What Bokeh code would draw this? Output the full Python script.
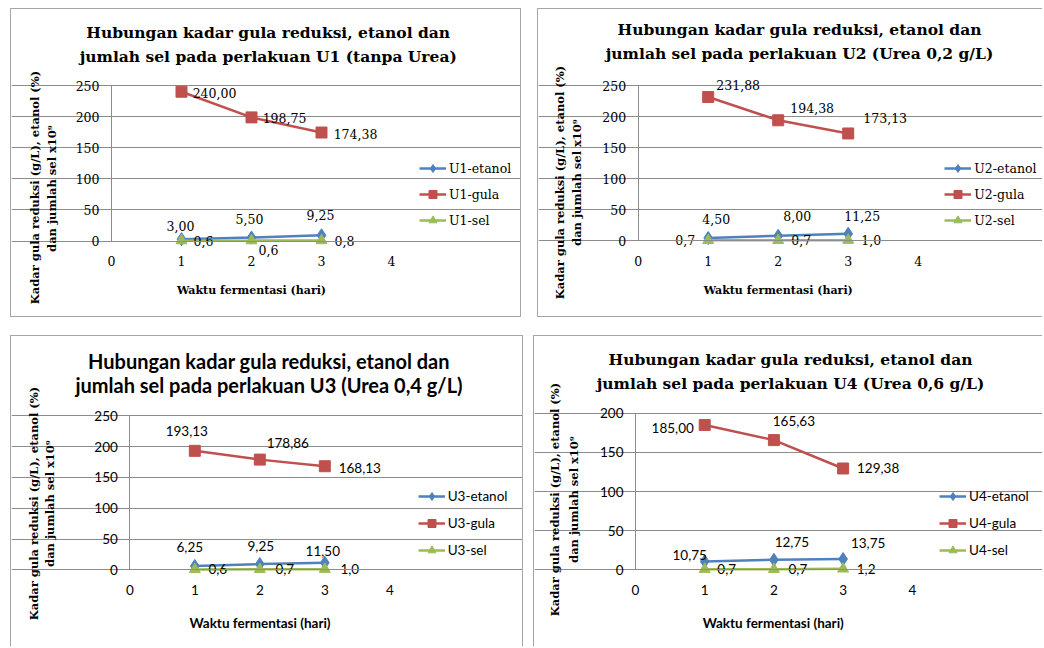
import math
from bokeh.plotting import figure
from bokeh.models import Legend, LegendItem, ColumnDataSource, FixedTicker, Range1d, Label
from bokeh.layouts import column, row
from bokeh.core.properties import value
from bokeh.embed import file_html
from bokeh.resources import INLINE

# ---------------- data ----------------
days = [1, 2, 3]
x_ticks = [0, 1, 2, 3, 4]

u1_etanol = [3.00, 5.50, 9.25]
u1_gula = [240.00, 198.75, 174.38]
u1_sel = [0.6, 0.6, 0.8]

u2_etanol = [4.50, 8.00, 11.25]
u2_gula = [231.88, 194.38, 173.13]
u2_sel = [0.7, 0.7, 1.0]

u3_etanol = [6.25, 9.25, 11.50]
u3_gula = [193.13, 178.86, 168.13]
u3_sel = [0.6, 0.7, 1.0]

u4_etanol = [10.75, 12.75, 13.75]
u4_gula = [185.00, 165.63, 129.38]
u4_sel = [0.7, 0.7, 1.2]

y_ticks_250 = [0, 50, 100, 150, 200, 250]
y_ticks_200 = [0, 50, 100, 150, 200]

titles = [
    ["Hubungan kadar gula reduksi, etanol dan", "jumlah sel pada perlakuan U1 (tanpa Urea)"],
    ["Hubungan kadar gula reduksi, etanol dan", "jumlah sel pada perlakuan U2 (Urea 0,2 g/L)"],
    ["Hubungan kadar gula reduksi, etanol dan", "jumlah sel pada perlakuan U3 (Urea 0,4 g/L)"],
    ["Hubungan kadar gula reduksi, etanol dan", "jumlah sel pada perlakuan U4 (Urea 0,6 g/L)"],
]
y_label_lines = ["Kadar gula reduksi (g/L), etanol (%)", "dan jumlah sel x10\u2079"]
x_label = "Waktu fermentasi (hari)"

# ---------------- style ----------------
SERIF = "DejaVu Serif"
SANS = "Lato"
BLUE = "#4F81BD"
RED = "#C0504D"
GREEN = "#9BBB59"
GRID = "#8c8c8c"
BORDER = "#a6a6a6"


def fmt2(v):
    return ("%.2f" % v).replace(".", ",")


def fmt1(v):
    return ("%.1f" % v).replace(".", ",")


def make_panel(cfg):
    W, H = cfg["size"]
    x0_px, ppx = cfg["xmap"]          # pixel of x=0 (from panel left), pixels per day
    top_px, zero_px = cfg["ymap"]     # pixel of y=ymax and y=0 (from panel top)
    ymax = cfg["ymax"]
    ppu = (zero_px - top_px) / ymax
    # the plotting frame covers the whole panel; axes sit at x=0 / y=0
    p = figure(width=W, height=H, output_backend="svg", toolbar_location=None, title=None,
               x_range=Range1d(-x0_px / ppx, (W - x0_px) / ppx),
               y_range=Range1d(-(H - zero_px) / ppu, zero_px / ppu),
               min_border=0, min_border_left=0, min_border_right=0,
               min_border_top=0, min_border_bottom=0)
    p.outline_line_color = None
    p.background_fill_color = "white"
    p.border_fill_color = "white"
    p.xgrid.visible = False
    p.ygrid.grid_line_color = GRID
    p.ygrid.grid_line_width = 1
    p.ygrid.bounds = (0, 4)
    p.xaxis.ticker = FixedTicker(ticks=x_ticks)
    p.yaxis.ticker = FixedTicker(ticks=cfg["yticks"])
    p.xaxis.bounds = (0, 4)
    p.yaxis.bounds = (0, ymax)
    p.xaxis.fixed_location = 0
    p.yaxis.fixed_location = 0
    for ax in (p.xaxis[0], p.yaxis[0]):
        ax.axis_line_color = GRID
        ax.major_tick_in = 0
        ax.major_tick_out = 0
        ax.minor_tick_in = 0
        ax.minor_tick_out = 0
        ax.major_label_text_font = cfg["tickfont"]
        ax.major_label_text_font_size = cfg["ticksize"]
        ax.major_label_text_color = "black"
    p.yaxis.major_label_standoff = 12
    p.xaxis.major_label_standoff = cfg["xstand"]

    def lab(text, x, y, font, size, bold=False, angle=0.0):
        p.add_layout(Label(x=x, y=H - y, x_units="screen", y_units="screen", text=text,
                           text_align="center", text_baseline="middle", angle=angle,
                           text_font=font, text_font_size=size,
                           text_font_style="bold" if bold else "normal", text_color="black"))

    for line, (tx, ty) in zip(cfg["title"], cfg["title_pos"]):
        lab(line, tx, ty, cfg["titlefont"], cfg["titlesize"], bold=True)
    for line, (tx, ty) in zip(y_label_lines, cfg["ylab_pos"]):
        lab(line, tx, ty, SERIF, "11.5px", bold=True, angle=math.pi / 2)
    lab(x_label, cfg["xlab_pos"][0], cfg["xlab_pos"][1], cfg["xlabfont"], cfg["xlabsize"], bold=True)

    items = []
    series = [
        ("etanol", cfg["etanol"], BLUE, "diamond", 13, fmt2),
        ("gula", cfg["gula"], RED, "square", 11, fmt2),
        ("sel", cfg["sel"], GREEN, "triangle", 11, fmt1),
    ]
    for name, vals, color, marker, msize, f in series:
        src = ColumnDataSource(dict(x=days, y=vals))
        lr = p.line("x", "y", source=src, line_color=color, line_width=2.5)
        sr = p.scatter("x", "y", source=src, marker=marker, size=msize,
                       fill_color=color, line_color=color)
        items.append(LegendItem(label=cfg["prefix"] + "-" + name, renderers=[lr, sr]))
    for name, vals, color, marker, msize, f in series:
        off = cfg["off_" + name]
        lsrc = ColumnDataSource(dict(x=days, y=vals, t=[f(v) for v in vals],
                                     dx=[o[0] for o in off], dy=[o[1] for o in off]))
        p.text("x", "y", text="t", source=lsrc, x_offset="dx", y_offset="dy",
               text_align="center", text_baseline="middle",
               text_font=value(cfg["labfont"]), text_font_size=cfg["labsize"], text_color="black")

    lx, ly_last = cfg["legend_pos"]
    sp = cfg["legend_step"] - 20
    leg = Legend(items=items, location=(lx, H - (ly_last + 10)),
                 orientation="vertical", padding=0, margin=0, spacing=sp,
                 glyph_width=27, glyph_height=20, label_height=20, label_standoff=3,
                 label_text_font=cfg["legfont"], label_text_font_size=cfg["legsize"],
                 label_text_color="black", border_line_color=None, background_fill_alpha=0)
    p.add_layout(leg, "center")
    p.styles = cfg["styles"]
    p.margin = cfg["margin"]
    return p


serif_cfg = dict(tickfont=SERIF, ticksize="12.5px", xlabfont=SERIF, xlabsize="11px",
                 labfont=SERIF, labsize="12.5px", legfont=SERIF, legsize="12.5px",
                 titlefont=SERIF, titlesize="15.5px", legend_step=26, xstand=15)
sans_cfg = dict(tickfont=SANS, ticksize="13.5px", xlabfont=SANS, xlabsize="13.5px",
                labfont=SANS, labsize="13.5px", legfont=SANS, legsize="13.5px", legend_step=27,
                xstand=15)

cfg1 = dict(serif_cfg, size=(511, 309), xmap=(100, 70), ymap=(76, 231.5),
            ymax=250, yticks=y_ticks_250,
            title=titles[0], title_pos=[(256.7, 23), (256.7, 47)],
            ylab_pos=[(23, 178), (40, 179)], xlab_pos=(240, 281),
            etanol=u1_etanol, gula=u1_gula, sel=u1_sel, prefix="U1",
            off_etanol=[(-1, -13), (-2, -19), (-1, -20)],
            off_gula=[(33, 1), (33, 1), (34, 1)],
            off_sel=[(22, 0), (17, 9), (23, 0)],
            legend_pos=(408, 211),
            styles={"border": "1px solid " + BORDER, "box-sizing": "border-box"},
            margin=(0, 0, 0, 10))
cfg2 = dict(serif_cfg, size=(505, 309), xmap=(99.7, 70), ymap=(76.3, 231.3),
            ymax=250, yticks=y_ticks_250,
            title=titles[1], title_pos=[(261, 20.3), (261, 44.3)],
            ylab_pos=[(21, 173), (38, 173)], xlab_pos=(239.7, 281.3),
            etanol=u2_etanol, gula=u2_gula, sel=u2_sel, prefix="U2",
            off_etanol=[(8, -19), (19, -20), (14, -18)],
            off_gula=[(30, -12), (34, -12), (37, -15)],
            off_sel=[(-23, 0), (23, 0), (23, 0)],
            legend_pos=(406.3, 211),
            styles={"border-left": "1px solid " + BORDER, "border-top": "1px solid " + BORDER,
                    "border-bottom": "1px solid " + BORDER, "box-sizing": "border-box"},
            margin=(0, 0, 0, 0))
cfg3 = dict(sans_cfg, size=(513, 311), xmap=(118.3, 65), ymap=(79.3, 233.3),
            ymax=250, yticks=y_ticks_250,
            titlefont=SANS, titlesize="20px",
            title=titles[2], title_pos=[(257.5, 24), (257.5, 48.3)],
            ylab_pos=[(22, 167), (38, 167)], xlab_pos=(248.5, 286.7),
            etanol=u3_etanol, gula=u3_gula, sel=u3_sel, prefix="U3",
            off_etanol=[(-5, -19), (1, -18), (-2, -12)],
            off_gula=[(-8, -20), (28, -17), (35, 2)],
            off_sel=[(23, 0), (25, 0), (25, 0)],
            legend_pos=(406.7, 214.3),
            styles={"border-left": "1px solid " + BORDER, "border-top": "1px solid " + BORDER,
                    "border-right": "1px solid " + BORDER, "box-sizing": "border-box"},
            margin=(0, 0, 0, 10))
cfg4 = dict(sans_cfg, size=(509, 311), xmap=(101, 69.2), ymap=(76.7, 233.3),
            ymax=200, yticks=y_ticks_200,
            titlefont=SERIF, titlesize="15.5px",
            title=titles[3], title_pos=[(256, 23), (256, 47)],
            ylab_pos=[(20, 163), (39, 163)], xlab_pos=(238.7, 286.7),
            etanol=u4_etanol, gula=u4_gula, sel=u4_sel, prefix="U4",
            off_etanol=[(-15, -6), (18, -18), (25, -16)],
            off_gula=[(-32, 3), (20, -19), (35, 0)],
            off_sel=[(22, 0), (24, 0), (23, 0)],
            legend_pos=(405, 214),
            styles={"border-left": "1px solid " + BORDER, "border-top": "1px solid " + BORDER,
                    "box-sizing": "border-box"},
            margin=(0, 0, 0, 0))

p1 = make_panel(cfg1)
p2 = make_panel(cfg2)
p3 = make_panel(cfg3)
p4 = make_panel(cfg4)

layout = column(row(p1, p2, spacing=16), row(p3, p4, spacing=10), spacing=18, margin=(8, 0, 0, 0))

open("out.html", "w").write(file_html(layout, INLINE))
